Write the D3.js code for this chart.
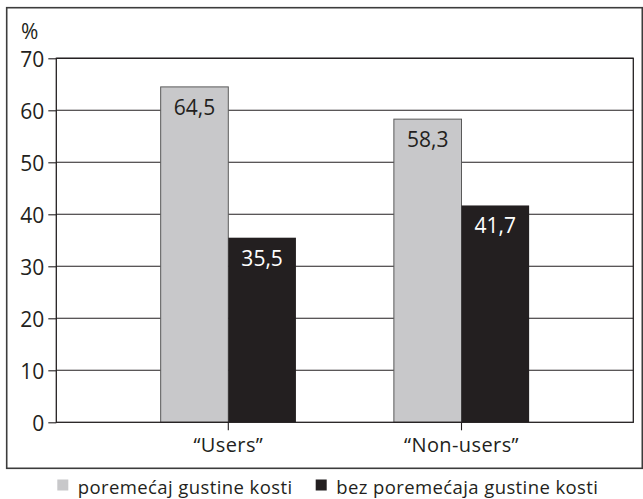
<!DOCTYPE html>
<html>
<head>
<meta charset="utf-8">
<script src="https://cdn.jsdelivr.net/npm/d3@7"></script>
<style>
  html, body { margin: 0; padding: 0; background: #fff; }
  svg { display: block; font-family: "Open Sans", sans-serif; }
</style>
</head>
<body>
<svg id="chart" width="643" height="499"></svg>
<script>
// Bone density disorder share among "users" and "non-users"
const categories = ["\u201CUsers\u201D", "\u201CNon-users\u201D"];
const seriesNames = ["poremećaj gustine kosti", "bez poremećaja gustine kosti"];
const withDisorder = [64.5, 58.3];
const withoutDisorder = [35.5, 41.7];
const yTicks = [0, 10, 20, 30, 40, 50, 60, 70];
const seriesColors = ["#c8c8ca", "#231f20"];
const labelColors = ["#231f20", "#ffffff"];

const svg = d3.select("#chart");
const plot = { left: 56.3, right: 633.3, top: 58.3, bottom: 422.3 };

const y = d3.scaleLinear().domain([0, 70]).range([plot.bottom, plot.top]);
const x = d3.scaleBand().domain(categories).range([111.7, 578.1]);
const barW = x.bandwidth() * 0.29;
const sub = d3.scaleBand().domain(seriesNames)
  .range([x.bandwidth() / 2 - barW, x.bandwidth() / 2 + barW]);

// outer frame
svg.append("rect")
  .attr("x", 6.7).attr("y", 7.7)
  .attr("width", 642.3 - 6.7).attr("height", 468.3 - 7.7)
  .attr("fill", "none").attr("stroke", "#3c3c3c").attr("stroke-width", 1.6);

// gridlines
svg.append("g").selectAll("line").data(yTicks.filter(t => t > 0))
  .join("line")
  .attr("x1", plot.left).attr("x2", plot.right)
  .attr("y1", d => y(d)).attr("y2", d => y(d))
  .attr("stroke", "#231f20").attr("stroke-width", 1.1);

// bars
const rows = categories.map((c, i) => ({ cat: c, vals: [withDisorder[i], withoutDisorder[i]] }));
const groups = svg.append("g").selectAll("g").data(rows).join("g")
  .attr("transform", d => `translate(${x(d.cat)},0)`);

groups.selectAll("rect").data(d => d.vals.map((v, j) => ({ v, j })))
  .join("rect")
  .attr("x", d => sub(seriesNames[d.j]))
  .attr("width", sub.bandwidth())
  .attr("y", d => y(d.v))
  .attr("height", d => y(0) - y(d.v))
  .attr("fill", d => seriesColors[d.j])
  .attr("stroke", d => d.j === 0 ? "#5a5a5a" : "none")
  .attr("stroke-width", 1);

groups.selectAll("text").data(d => d.vals.map((v, j) => ({ v, j })))
  .join("text")
  .attr("x", d => sub(seriesNames[d.j]) + sub.bandwidth() / 2)
  .attr("y", d => y(d.v) + 28)
  .attr("text-anchor", "middle")
  .attr("font-size", 21)
  .attr("fill", d => labelColors[d.j])
  .text(d => d3.format(".1f")(d.v).replace(".", ","));

// plot border
svg.append("rect")
  .attr("x", plot.left).attr("y", plot.top)
  .attr("width", plot.right - plot.left).attr("height", plot.bottom - plot.top)
  .attr("fill", "none").attr("stroke", "#231f20").attr("stroke-width", 1.3);

// y axis
const yAxis = svg.append("g")
  .attr("transform", `translate(${plot.left},0)`)
  .call(d3.axisLeft(y).tickValues(yTicks).tickSize(8).tickPadding(4).tickFormat(d3.format("d")));
yAxis.select(".domain").remove();
yAxis.selectAll(".tick line").attr("stroke", "#231f20").attr("stroke-width", 1.1);
yAxis.selectAll(".tick text")
  .attr("font-family", "Open Sans, sans-serif")
  .attr("font-size", 21).attr("fill", "#231f20")
  .attr("x", -12).attr("dy", 8);

// x axis
const xAxis = svg.append("g")
  .attr("transform", `translate(0,${plot.bottom})`)
  .call(d3.axisBottom(x).tickSize(8));
xAxis.select(".domain").remove();
xAxis.selectAll(".tick line").attr("stroke", "#231f20").attr("stroke-width", 1.1);
xAxis.selectAll(".tick text")
  .attr("font-family", "Open Sans, sans-serif")
  .attr("font-size", 20).attr("fill", "#231f20")
  .attr("letter-spacing", 0.4)
  .attr("y", 30).attr("dy", null);

// unit label
svg.append("text")
  .attr("x", 21).attr("y", 39)
  .attr("font-size", 21).attr("fill", "#231f20")
  .text("%");

// legend
const legendX = [57.3, 315.7];
const legend = svg.append("g").selectAll("g").data(seriesNames).join("g")
  .attr("transform", (d, i) => `translate(${legendX[i]},0)`);
legend.append("rect")
  .attr("x", 0).attr("y", 479.5).attr("width", 11).attr("height", 11)
  .attr("fill", (d, i) => seriesColors[i]);
legend.append("text")
  .attr("x", 20.5).attr("y", 493.5)
  .attr("font-size", 18.5).attr("fill", "#231f20")
  .attr("letter-spacing", 0.4)
  .text(d => d);
</script>
</body>
</html>
